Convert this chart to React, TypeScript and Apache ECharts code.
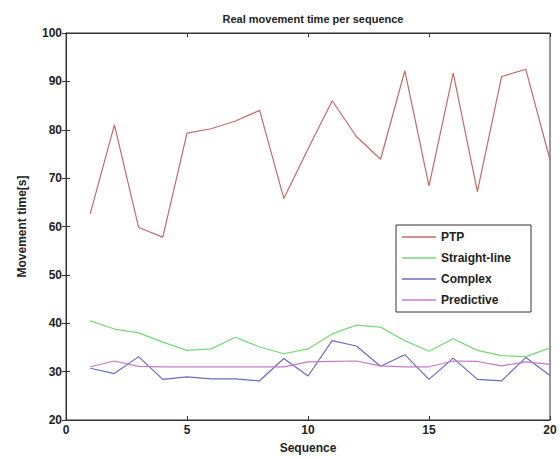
import React, { useEffect, useRef } from "react";
import * as echarts from "echarts";

const sequence = [1, 2, 3, 4, 5, 6, 7, 8, 9, 10, 11, 12, 13, 14, 15, 16, 17, 18, 19, 20];
const ptp = [62.6, 81.0, 59.8, 57.8, 79.3, 80.2, 81.8, 84.0, 65.8, 76.0, 86.0, 78.6, 73.9, 92.2, 68.4, 91.7, 67.2, 91.0, 92.5, 73.8];
const straightLine = [40.5, 38.8, 38.0, 36.1, 34.4, 34.7, 37.1, 35.1, 33.7, 34.7, 37.8, 39.6, 39.2, 36.4, 34.2, 36.8, 34.4, 33.3, 33.1, 34.9];
const complex = [30.7, 29.6, 33.1, 28.4, 28.9, 28.5, 28.5, 28.1, 32.7, 29.1, 36.4, 35.3, 31.1, 33.5, 28.4, 32.8, 28.4, 28.1, 32.9, 29.2];
const predictive = [31.0, 32.2, 31.1, 31.0, 31.0, 31.0, 31.0, 31.0, 31.0, 32.0, 32.1, 32.2, 31.2, 31.0, 31.0, 32.2, 32.1, 31.2, 32.0, 31.5];
const seriesNames = ["PTP", "Straight-line", "Complex", "Predictive"];
const seriesColors = ["#c46a6a", "#77d877", "#6b6bc0", "#c67ac6"];

const toPairs = (vals: number[]) => vals.map((v, i) => [sequence[i], v]);

export default function App() {
  const ref = useRef<HTMLDivElement>(null);
  useEffect(() => {
    if (!ref.current) return;
    const chart = echarts.init(ref.current, null, { renderer: "svg" });
    const font = "Liberation Sans";
    const axisLine = { show: true, lineStyle: { color: "#333", width: 1 } };
    const tick = { show: true, inside: true, length: 4, lineStyle: { color: "#333" } };
    chart.setOption({
      animation: false,
      backgroundColor: "#fff",
      title: {
        text: "Real movement time per sequence",
        left: 308,
        top: 8,
        textAlign: "center",
        textStyle: { fontFamily: font, fontSize: 11, fontWeight: "bold", color: "#222" },
      },
      grid: { left: 66, right: 10, top: 33, bottom: 38, show: true, borderColor: "#333", borderWidth: 1 },
      legend: {
        data: seriesNames,
        orient: "vertical",
        left: 396,
        top: 225,
        padding: [6, 20, 6, 6],
        itemGap: 9,
        itemWidth: 34,
        itemHeight: 1.5,
        icon: "rect",
        borderColor: "#333",
        borderWidth: 1,
        backgroundColor: "#fff",
        textStyle: { fontFamily: font, fontSize: 12, fontWeight: "bold", color: "#222" },
      },
      xAxis: [
        {
          type: "value",
          min: 0,
          max: 20,
          interval: 5,
          name: "Sequence",
          nameLocation: "middle",
          nameGap: 22,
          nameTextStyle: { fontFamily: font, fontSize: 12, fontWeight: "bold", color: "#222" },
          axisLine,
          axisTick: tick,
          axisLabel: { fontFamily: font, fontSize: 12, fontWeight: "bold", color: "#222", margin: 4 },
          splitLine: { show: false },
        },
        {
          type: "value",
          position: "top",
          min: 0,
          max: 20,
          interval: 5,
          axisLine,
          axisTick: tick,
          axisLabel: { show: false },
          splitLine: { show: false },
        },
      ],
      yAxis: [
        {
          type: "value",
          min: 20,
          max: 100,
          interval: 10,
          name: "Movement time[s]",
          nameLocation: "middle",
          nameGap: 38,
          nameTextStyle: { fontFamily: font, fontSize: 12, fontWeight: "bold", color: "#222" },
          axisLine,
          axisTick: tick,
          axisLabel: { fontFamily: font, fontSize: 12, fontWeight: "bold", color: "#222", margin: 4 },
          splitLine: { show: false },
        },
        {
          type: "value",
          position: "right",
          min: 20,
          max: 100,
          interval: 10,
          axisLine,
          axisTick: tick,
          axisLabel: { show: false },
          splitLine: { show: false },
        },
      ],
      series: [ptp, straightLine, complex, predictive].map((vals, i) => ({
        name: seriesNames[i],
        type: "line",
        data: toPairs(vals),
        symbol: "none",
        xAxisIndex: 0,
        yAxisIndex: 0,
        lineStyle: { color: seriesColors[i], width: 1.2 },
        itemStyle: { color: seriesColors[i] },
      })),
    });
    return () => chart.dispose();
  }, []);
  return <div ref={ref} style={{ width: 560, height: 459, position: "absolute", left: 0, top: 0 }} />;
}
